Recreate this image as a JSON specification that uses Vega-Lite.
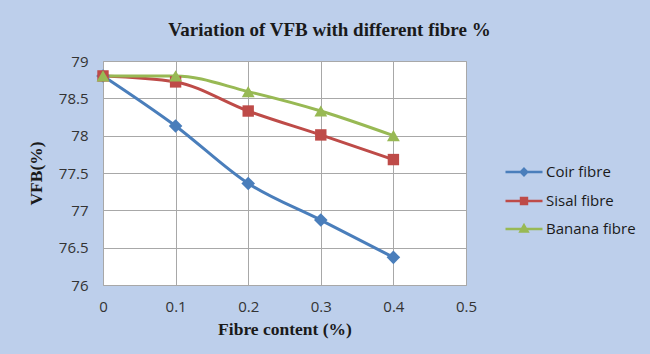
{
  "$schema": "https://vega.github.io/schema/vega-lite/v6.json",
  "width": 363,
  "height": 224,
  "autosize": {"type": "none"},
  "padding": {"left": 103, "top": 61, "right": 184, "bottom": 69},
  "background": "#bdcfeb",
  "title": {
    "text": "Variation of VFB with different fibre %",
    "font": "Liberation Serif",
    "fontSize": 19,
    "fontWeight": "bold",
    "color": "#1a1a1a",
    "anchor": "middle",
    "frame": "group",
    "baseline": "alphabetic",
    "dx": 45,
    "offset": -1
  },
  "data": {
    "values": [
      {"fibre": "Coir fibre", "content": 0, "vfb": 78.8},
      {"fibre": "Coir fibre", "content": 0.1, "vfb": 78.13},
      {"fibre": "Coir fibre", "content": 0.2, "vfb": 77.36},
      {"fibre": "Coir fibre", "content": 0.3, "vfb": 76.87},
      {"fibre": "Coir fibre", "content": 0.4, "vfb": 76.37},
      {"fibre": "Sisal fibre", "content": 0, "vfb": 78.8},
      {"fibre": "Sisal fibre", "content": 0.1, "vfb": 78.72},
      {"fibre": "Sisal fibre", "content": 0.2, "vfb": 78.33},
      {"fibre": "Sisal fibre", "content": 0.3, "vfb": 78.01},
      {"fibre": "Sisal fibre", "content": 0.4, "vfb": 77.68},
      {"fibre": "Banana fibre", "content": 0, "vfb": 78.8},
      {"fibre": "Banana fibre", "content": 0.1, "vfb": 78.8},
      {"fibre": "Banana fibre", "content": 0.2, "vfb": 78.59},
      {"fibre": "Banana fibre", "content": 0.3, "vfb": 78.33},
      {"fibre": "Banana fibre", "content": 0.4, "vfb": 78.0}
    ]
  },
  "encoding": {
    "x": {
      "field": "content",
      "type": "quantitative",
      "scale": {"domain": [0, 0.5], "nice": false, "zero": false},
      "axis": {
        "title": "Fibre content (%)",
        "values": [0, 0.1, 0.2, 0.3, 0.4, 0.5],
        "format": "~g",
        "labelBaseline": "alphabetic",
        "labelPadding": 26,
        "labelFlush": false,
        "titleY": 49,
        "titleBaseline": "alphabetic"
      }
    },
    "y": {
      "field": "vfb",
      "type": "quantitative",
      "scale": {"domain": [76, 79], "nice": false, "zero": false},
      "axis": {
        "title": "VFB(%)",
        "values": [76, 76.5, 77, 77.5, 78, 78.5, 79],
        "format": "~g",
        "labelPadding": 15,
        "labelFlush": false,
        "titleAngle": -90,
        "titleX": -62,
        "titleY": 112,
        "titleAlign": "center",
        "titleBaseline": "alphabetic"
      }
    },
    "color": {
      "field": "fibre",
      "type": "nominal",
      "sort": ["Coir fibre", "Sisal fibre", "Banana fibre"],
      "scale": {
        "domain": ["Coir fibre", "Sisal fibre", "Banana fibre"],
        "range": ["#4a7ebb", "#be4b48", "#98b954"]
      },
      "legend": {
        "title": null,
        "orient": "none",
        "legendX": 401,
        "legendY": 91,
        "symbolSize": 1369,
        "symbolStrokeWidth": 2.5,
        "rowPadding": -8,
        "labelOffset": 2,
        "labelFont": "Open Sans",
        "labelFontSize": 15,
        "labelColor": "#1a1a1a",
        "encode": {
          "symbols": {
            "update": {
              "shape": {"signal": "datum.value === 'Coir fibre' ? 'M-1,0H1M0,-0.17L0.17,0L0,0.17L-0.17,0Z' : datum.value === 'Sisal fibre' ? 'M-1,0H1M-0.16,-0.16H0.16V0.16H-0.16Z' : 'M-1,0H1M0,-0.2L0.19,0.13L-0.19,0.13Z'"},
              "fill": {"scale": "color", "field": "value"},
              "stroke": {"scale": "color", "field": "value"},
              "strokeWidth": {"value": 2.5},
              "opacity": {"value": 1}
            }
          }
        }
      }
    }
  },
  "layer": [
    {
      "mark": {"type": "line", "interpolate": "monotone", "strokeWidth": 3}
    },
    {
      "transform": [{"filter": "datum.fibre === 'Coir fibre'"}],
      "mark": {"type": "point", "shape": "diamond", "filled": true, "size": 185, "opacity": 1}
    },
    {
      "transform": [{"filter": "datum.fibre === 'Sisal fibre'"}],
      "mark": {"type": "point", "shape": "square", "filled": true, "size": 130, "opacity": 1}
    },
    {
      "transform": [{"filter": "datum.fibre === 'Banana fibre'"}],
      "mark": {"type": "point", "shape": "triangle-up", "filled": true, "size": 165, "opacity": 1}
    }
  ],
  "config": {
    "view": {"fill": "#ffffff", "stroke": "#a8a8a8", "strokeWidth": 1},
    "axis": {
      "domain": false,
      "ticks": false,
      "tickSize": 0,
      "gridColor": "#a8a8a8",
      "gridWidth": 1,
      "gridOpacity": 1,
      "labelFont": "Open Sans",
      "labelFontSize": 15,
      "labelColor": "#333333",
      "titleFont": "Liberation Serif",
      "titleFontWeight": "bold",
      "titleFontSize": 17.5,
      "titleColor": "#1a1a1a"
    }
  }
}
